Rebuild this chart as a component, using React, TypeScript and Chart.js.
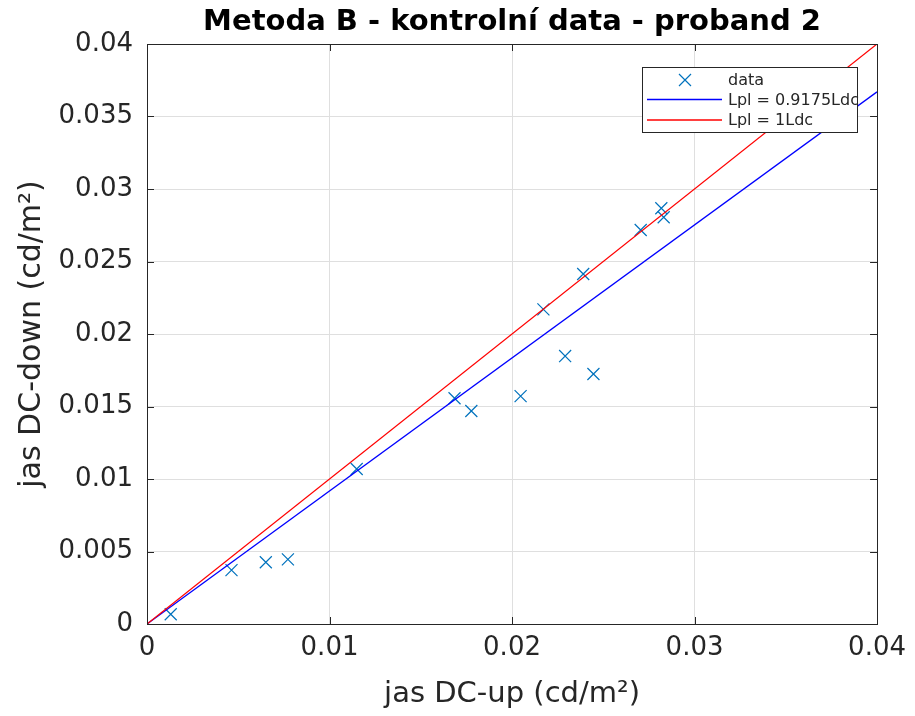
import React, { useEffect, useRef } from "react";
import { Chart, registerables } from "chart.js";

Chart.register(...registerables);

// ---- data ----
const dataX = [0.0013, 0.00463, 0.00651, 0.00772, 0.01149, 0.01685, 0.01777, 0.02047, 0.02172, 0.02291, 0.0239, 0.02446, 0.02705, 0.02818, 0.02831];
const dataY = [0.00067, 0.00372, 0.00426, 0.00446, 0.01069, 0.01557, 0.01469, 0.01572, 0.0217, 0.01848, 0.02414, 0.01724, 0.02717, 0.02867, 0.02805];
const fitX = [0, 0.04];
const fitBlueY = [0, 0.0367];
const fitRedY = [0, 0.04];
const xTicks = [0, 0.01, 0.02, 0.03, 0.04];
const yTicks = [0, 0.005, 0.01, 0.015, 0.02, 0.025, 0.03, 0.035, 0.04];
const legendLabels = ["data", "Lpl = 0.9175Ldc", "Lpl = 1Ldc"];
const titleText = "Metoda B - kontrolní data - proband 2";
const xLabel = "jas DC-up (cd/m²)";
const yLabel = "jas DC-down (cd/m²)";

const FONT = "'DejaVu Sans', sans-serif";
const TEXT = "#262626";
const MARKER = "#0072BD";
const BLUE = "#0000ff";
const RED = "#ff0000";

const framePlugin = {
  id: "matlabFrame",
  afterDatasetsDraw(chart: any) {
    const { ctx, chartArea } = chart;
    const { left, right, top, bottom } = chartArea;
    const xs = chart.scales.x;
    const ys = chart.scales.y;
    ctx.save();
    // inner ticks
    ctx.strokeStyle = TEXT;
    ctx.lineWidth = 1;
    const tl = 7;
    ctx.beginPath();
    xTicks.forEach((v) => {
      const px = Math.round(xs.getPixelForValue(v)) + 0.5;
      ctx.moveTo(px, bottom);
      ctx.lineTo(px, bottom - tl);
      ctx.moveTo(px, top);
      ctx.lineTo(px, top + tl);
    });
    yTicks.forEach((v) => {
      const py = Math.round(ys.getPixelForValue(v)) + 0.5;
      ctx.moveTo(left, py);
      ctx.lineTo(left + tl, py);
      ctx.moveTo(right, py);
      ctx.lineTo(right - tl, py);
    });
    ctx.stroke();
    // box
    ctx.strokeRect(Math.round(left) + 0.5, Math.round(top) + 0.5, Math.round(right - left), Math.round(bottom - top));

    // legend
    const lx = 642, ly = 67, lw = 215, lh = 65;
    ctx.fillStyle = "#ffffff";
    ctx.fillRect(lx, ly, lw, lh);
    ctx.strokeStyle = TEXT;
    ctx.lineWidth = 1;
    ctx.strokeRect(lx + 0.5, ly + 0.5, lw, lh);
    const rows = [80, 99.5, 120];
    ctx.font = `16px ${FONT}`;
    ctx.fillStyle = TEXT;
    ctx.textBaseline = "middle";
    ctx.textAlign = "left";
    // marker row
    ctx.strokeStyle = MARKER;
    ctx.lineWidth = 1.2;
    const mx = 685, my = rows[0], mr = 6;
    ctx.beginPath();
    ctx.moveTo(mx - mr, my - mr);
    ctx.lineTo(mx + mr, my + mr);
    ctx.moveTo(mx - mr, my + mr);
    ctx.lineTo(mx + mr, my - mr);
    ctx.stroke();
    const lineColors = [BLUE, RED];
    lineColors.forEach((c, i) => {
      ctx.strokeStyle = c;
      ctx.lineWidth = 1.6;
      ctx.beginPath();
      ctx.moveTo(647, rows[i + 1]);
      ctx.lineTo(722, rows[i + 1]);
      ctx.stroke();
    });
    ctx.fillStyle = TEXT;
    legendLabels.forEach((t, i) => {
      ctx.fillText(t, 728, rows[i] + 1);
    });

    // title
    ctx.font = `bold 29px ${FONT}`;
    ctx.textAlign = "center";
    ctx.textBaseline = "middle";
    ctx.fillStyle = "#000000";
    ctx.fillText(titleText, (left + right) / 2, 22);
    ctx.restore();
  },
};

export default function App() {
  const ref = useRef<HTMLCanvasElement | null>(null);
  useEffect(() => {
    if (!ref.current) return;
    const chart = new Chart(ref.current, {
      type: "scatter",
      data: {
        datasets: [
          {
            label: legendLabels[0],
            data: dataX.map((x, i) => ({ x, y: dataY[i] })),
            pointStyle: "crossRot",
            pointRadius: 8.5,
            borderColor: MARKER,
            backgroundColor: MARKER,
            borderWidth: 1.2,
            showLine: false,
            order: 2,
          },
          {
            label: legendLabels[1],
            data: fitX.map((x, i) => ({ x, y: fitBlueY[i] })),
            showLine: true,
            borderColor: BLUE,
            borderWidth: 1.3,
            pointRadius: 0,
            order: 1,
          },
          {
            label: legendLabels[2],
            data: fitX.map((x, i) => ({ x, y: fitRedY[i] })),
            showLine: true,
            borderColor: RED,
            borderWidth: 1.3,
            pointRadius: 0,
            order: 0,
          },
        ],
      },
      options: {
        animation: false,
        responsive: false,
        events: [],
        layout: { padding: { top: 44, right: 37, left: 0, bottom: 0 } },
        plugins: {
          legend: { display: false },
          tooltip: { enabled: false },
          title: { display: false },
        },
        scales: {
          x: {
            type: "linear",
            min: 0,
            max: 0.04,
            afterBuildTicks: (s: any) => {
              s.ticks = xTicks.map((v) => ({ value: v }));
            },
            afterFit: (s: any) => {
              s.height = 92;
            },
            grid: { color: "rgb(223,223,223)", drawTicks: false, lineWidth: 1 },
            border: { display: false },
            ticks: {
              padding: 9,
              color: TEXT,
              font: { family: FONT, size: 26 },
              maxRotation: 0,
              autoSkip: false,
              callback: (v: any) => String(v),
            },
            title: {
              display: true,
              text: xLabel,
              color: TEXT,
              font: { family: FONT, size: 29 },
              padding: { top: 0, bottom: 4 },
            },
          },
          y: {
            type: "linear",
            min: 0,
            max: 0.04,
            afterBuildTicks: (s: any) => {
              s.ticks = yTicks.map((v) => ({ value: v }));
            },
            afterFit: (s: any) => {
              s.width = 147;
            },
            grid: { color: "rgb(223,223,223)", drawTicks: false, lineWidth: 1 },
            border: { display: false },
            ticks: {
              padding: 14,
              color: TEXT,
              font: { family: FONT, size: 26 },
              autoSkip: false,
              callback: (v: any) => String(v),
            },
            title: {
              display: true,
              text: yLabel,
              color: TEXT,
              font: { family: FONT, size: 30 },
              padding: { top: 14, bottom: 0 },
            },
          },
        },
      },
      plugins: [framePlugin],
    } as any);
    return () => chart.destroy();
  }, []);

  return (
    <div style={{ position: "fixed", left: 0, top: 0, width: 915, height: 716, background: "#fff" }}>
      <canvas ref={ref} width={915} height={716} style={{ width: 915, height: 716 }} />
    </div>
  );
}
